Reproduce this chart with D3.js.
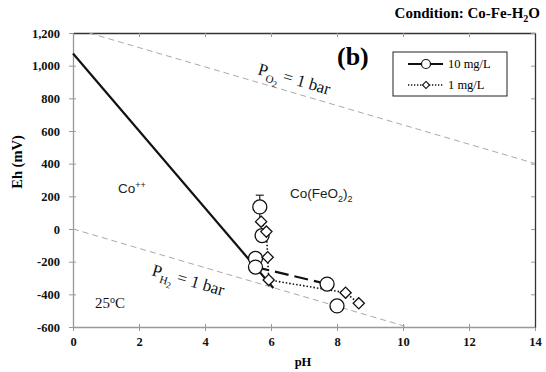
<!DOCTYPE html>
<html>
<head>
<meta charset="UTF-8">
<title>Co-Fe-H2O Eh-pH</title>
<script src="https://d3js.org/d3.v7.min.js"></script>
<style>
  body { margin: 0; background: #fff; }
  svg text { font-family: "Liberation Serif", "Times New Roman", serif; }
  svg text.sans { font-family: "Liberation Sans", Arial, sans-serif; }
</style>
</head>
<body>
<svg id="svg" width="546" height="372"></svg>
<script>
// data
var xTicks = [0, 2, 4, 6, 8, 10, 12, 14];
var yTicks = [-600, -400, -200, 0, 200, 400, 600, 800, 1000, 1200];

// Co++ / Co(FeO2)2 boundary
var boundaryPH = [0, 6.07];
var boundaryEh = [1075, -361];

// water stability lines (Eh = a - 59.16 pH)
var o2PH = [0.49, 14];
var o2Eh = [1200, 401];
var h2PH = [0, 10.14];
var h2Eh = [0, -600];

// 10 mg/L (circles)
var pH10 = [5.66, 5.73, 5.53, 5.53, 7.70, 8.00];
var eh10 = [135, -40, -180, -233, -337, -471];
var err10 = [72, 15, 20, 15, 10, 25];

// 1 mg/L (diamonds)
var pH1 = [5.70, 5.86, 5.90, 5.93, 8.26, 8.66];
var eh1 = [45, -16, -173, -312, -390, -455];

var svg = d3.select("#svg");
var x = d3.scaleLinear().domain([0, 14]).range([73, 535]);
var y = d3.scaleLinear().domain([-600, 1200]).range([327, 33]);

var fmt = function (d) { return d3.format(",")(d).replace("\u2212", "-"); };

function tickText(g) {
    g.attr("font-family", null);
    g.selectAll(".tick text").attr("font-family", "Liberation Serif").style("font-weight", "bold")
        .style("font-size", "12.5px").attr("fill", "#111");
}

// left axis
var gl = svg.append("g").attr("transform", "translate(73,0)")
    .call(d3.axisLeft(y).tickValues(yTicks).tickFormat(fmt).tickSizeInner(4).tickSizeOuter(0).tickPadding(9));
gl.select(".domain").attr("stroke", "#999").attr("stroke-width", 1.3);
gl.selectAll(".tick line").attr("stroke", "#999").attr("x1", 3);
tickText(gl);

// bottom axis
var gb = svg.append("g").attr("transform", "translate(0,327)")
    .call(d3.axisBottom(x).tickValues(xTicks).tickSizeInner(4).tickSizeOuter(0).tickPadding(6));
gb.select(".domain").attr("stroke", "#999").attr("stroke-width", 1.3);
gb.selectAll(".tick line").attr("stroke", "#999").attr("y1", -3);
tickText(gb);

// top and right frame
var gt = svg.append("g").attr("transform", "translate(0,33)")
    .call(d3.axisBottom(x).tickValues(xTicks).tickFormat("").tickSizeInner(4).tickSizeOuter(0));
gt.select(".domain").attr("stroke", "#333").attr("stroke-width", 1.3);
gt.selectAll(".tick line").attr("stroke", "#999");
var gr = svg.append("g").attr("transform", "translate(535,0)")
    .call(d3.axisLeft(y).tickValues(yTicks).tickFormat("").tickSizeInner(4).tickSizeOuter(0));
gr.select(".domain").attr("stroke", "#333").attr("stroke-width", 1.3);
gr.selectAll(".tick line").attr("stroke", "#999");

// axis titles
svg.append("text").attr("transform", "translate(22,162) rotate(-90)")
    .attr("text-anchor", "middle").style("font-weight", "bold").style("font-size", "14.5px").text("Eh (mV)");
svg.append("text").attr("x", 303).attr("y", 366)
    .attr("text-anchor", "middle").style("font-weight", "bold").style("font-size", "12.5px").text("pH");

// title
var title = svg.append("text").attr("x", 540).attr("y", 18).attr("text-anchor", "end")
    .style("font-weight", "bold").style("font-size", "15px");
title.append("tspan").text("Condition: Co-Fe-H");
title.append("tspan").attr("dy", 4).style("font-size", "10px").text("2");
title.append("tspan").attr("dy", -4).text("O");

function pts(px, py) { return px.map(function (d, i) { return [x(d), y(py[i])]; }); }
var line = d3.line();

// water lines
svg.append("path").attr("d", line(pts(o2PH, o2Eh))).attr("fill", "none")
    .attr("stroke", "#aaa").attr("stroke-width", 1).attr("stroke-dasharray", "6,4");
svg.append("path").attr("d", line(pts(h2PH, h2Eh))).attr("fill", "none")
    .attr("stroke", "#aaa").attr("stroke-width", 1).attr("stroke-dasharray", "6,4");

// boundary
svg.append("path").attr("d", line(pts(boundaryPH, boundaryEh))).attr("fill", "none")
    .attr("stroke", "#111").attr("stroke-width", 2.2);

// rotated line labels
var ang = Math.atan2(y(0) - y(59.16), x(1) - x(0)) * 180 / Math.PI;
function pLabel(px, py, sub) {
    var t = svg.append("text").attr("transform", "translate(" + px + "," + py + ") rotate(" + ang + ")")
        .style("font-size", "17px").attr("fill", "#111");
    t.append("tspan").text("P");
    t.append("tspan").attr("dy", 5).style("font-size", "11px").text(sub.charAt(0));
    t.append("tspan").attr("dy", 3).style("font-size", "9px").text(sub.charAt(1));
    t.append("tspan").attr("dy", -8).text(" = 1 bar");
}
pLabel(257, 74, "O2");
pLabel(151, 275, "H2");

// region labels
var co = svg.append("text").attr("class", "sans").attr("x", 118).attr("y", 193).style("font-size", "13.5px").attr("fill", "#222");
co.append("tspan").text("Co");
co.append("tspan").attr("dy", -5).style("font-size", "9px").text("++");
var cf = svg.append("text").attr("class", "sans").attr("x", 290).attr("y", 198).style("font-size", "13.5px").attr("fill", "#222");
cf.append("tspan").text("Co(FeO");
cf.append("tspan").attr("dy", 4).style("font-size", "9px").text("2");
cf.append("tspan").attr("dy", -4).text(")");
cf.append("tspan").attr("dy", 4).style("font-size", "9px").text("2");

var tc = svg.append("text").attr("x", 95).attr("y", 308).style("font-size", "15px").attr("fill", "#111");
tc.append("tspan").text("25");
tc.append("tspan").attr("dy", -5).style("font-size", "10px").text("o");
tc.append("tspan").attr("dy", 5).text("C");

svg.append("text").attr("x", 337).attr("y", 65).style("font-weight", "bold").style("font-size", "26px").text("(b)");

// 10 mg/L series: error bars, dashed segment, circles
var c10 = pts(pH10, eh10);
svg.selectAll(".err").data(pH10).enter().append("g").attr("class", "err").each(function (d, i) {
    var g = d3.select(this), cx = x(d);
    g.append("line").attr("x1", cx).attr("x2", cx).attr("y1", y(eh10[i] - err10[i])).attr("y2", y(eh10[i] + err10[i]))
        .attr("stroke", "#222").attr("stroke-width", 1.2);
    g.append("line").attr("x1", cx - 4).attr("x2", cx + 4).attr("y1", y(eh10[i] + err10[i])).attr("y2", y(eh10[i] + err10[i]))
        .attr("stroke", "#222").attr("stroke-width", 1.2);
});
svg.append("path").attr("d", line([c10[3], c10[4]])).attr("fill", "none")
    .attr("stroke", "#111").attr("stroke-width", 2.2).attr("stroke-dasharray", "14,6");

// 1 mg/L dotted path
var c1 = pts(pH1, eh1);
svg.append("path").attr("d", line(c1)).attr("fill", "none")
    .attr("stroke", "#111").attr("stroke-width", 1.6).attr("stroke-dasharray", "1.5,2");

svg.selectAll(".c10").data(c10).enter().append("circle").attr("class", "c10")
    .attr("cx", function (d) { return d[0]; }).attr("cy", function (d) { return d[1]; })
    .attr("r", 7).attr("fill", "#fff").attr("stroke", "#111").attr("stroke-width", 1.3);

var diamond = d3.symbol().type(d3.symbolDiamond2).size(80);
svg.selectAll(".d1").data(c1).enter().append("path").attr("class", "d1")
    .attr("d", diamond)
    .attr("transform", function (d) { return "translate(" + d[0] + "," + d[1] + ")"; })
    .attr("fill", "#fff").attr("stroke", "#111").attr("stroke-width", 1.3);

// legend
var lg = svg.append("g");
lg.append("rect").attr("x", 393).attr("y", 52).attr("width", 114).attr("height", 44)
    .attr("fill", "#fff").attr("stroke", "#222").attr("stroke-width", 1);
lg.append("line").attr("x1", 408).attr("x2", 443).attr("y1", 64).attr("y2", 64).attr("stroke", "#111").attr("stroke-width", 1.8);
lg.append("circle").attr("cx", 426).attr("cy", 64).attr("r", 4.5).attr("fill", "#fff").attr("stroke", "#111").attr("stroke-width", 1.2);
lg.append("line").attr("x1", 408).attr("x2", 443).attr("y1", 85).attr("y2", 85).attr("stroke", "#111").attr("stroke-width", 1.4).attr("stroke-dasharray", "1.3,1.7");
lg.append("path").attr("d", d3.symbol().type(d3.symbolDiamond2).size(32))
    .attr("transform", "translate(426,85)").attr("fill", "#fff").attr("stroke", "#111").attr("stroke-width", 1.1);
lg.append("text").attr("x", 448).attr("y", 68).style("font-size", "12.5px").text("10 mg/L");
lg.append("text").attr("x", 448).attr("y", 89).style("font-size", "12.5px").text("1 mg/L");
</script>
</body>
</html>
